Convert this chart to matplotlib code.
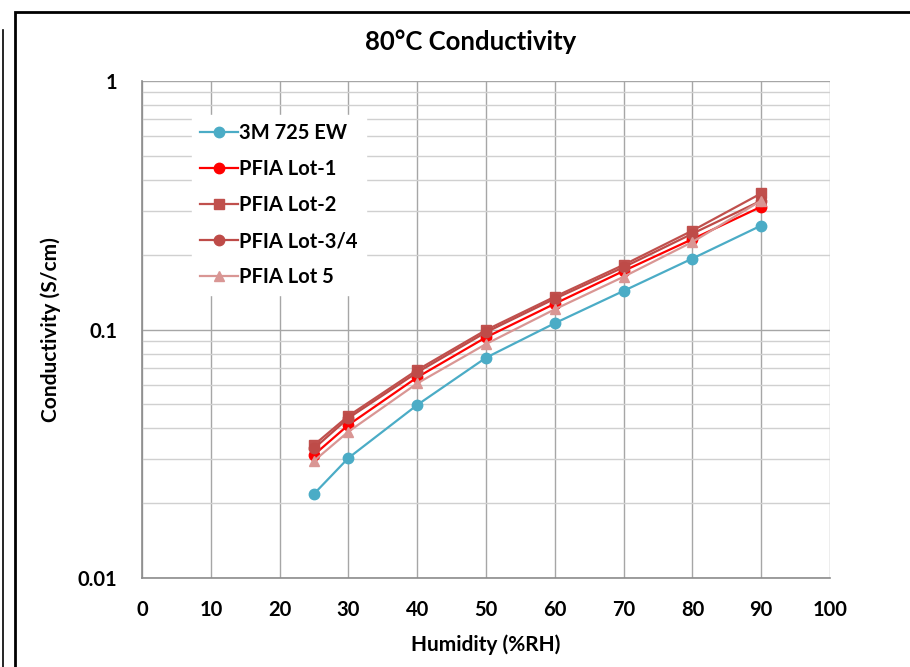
import numpy as np
import matplotlib.pyplot as plt
from matplotlib.ticker import FixedLocator, LogLocator, NullFormatter
from matplotlib.patches import Rectangle
from matplotlib.lines import Line2D

plt.rcParams['font.family'] = ['Lato', 'DejaVu Sans']

humidity = [25, 30, 40, 50, 60, 70, 80, 90]

cond_3m = [0.0218, 0.0304, 0.0497, 0.0770, 0.106, 0.143, 0.193, 0.262]
cond_lot1 = [0.0313, 0.0413, 0.0642, 0.0930, 0.127, 0.172, 0.231, 0.312]
cond_lot2 = [0.0343, 0.0449, 0.0687, 0.0995, 0.1355, 0.182, 0.250, 0.353]
cond_lot34 = [0.0332, 0.0440, 0.0672, 0.0975, 0.133, 0.178, 0.243, 0.330]
cond_lot5 = [0.0296, 0.0388, 0.0607, 0.0874, 0.1206, 0.163, 0.225, 0.330]

series = [
    ('3M 725 EW', cond_3m, '#4BACC6', 'o'),
    ('PFIA Lot-1', cond_lot1, '#FF0000', 'o'),
    ('PFIA Lot-2', cond_lot2, '#C0504D', 's'),
    ('PFIA Lot-3/4', cond_lot34, '#BE4B48', 'o'),
    ('PFIA Lot 5', cond_lot5, '#D99694', '^'),
]

fig = plt.figure(figsize=(9.1, 6.67), dpi=100)
ax = fig.add_axes([142 / 910, 1 - 578 / 667, (830 - 142) / 910, (578 - 81) / 667])

# outer chart frame (runs off the right and bottom edges)
fig.patches.append(Rectangle((15 / 910, -0.05), 0.99, 1.05 - 12 / 667,
                             transform=fig.transFigure, fill=False,
                             edgecolor='black', linewidth=2))
fig.lines.append(Line2D([3 / 910, 3 / 910], [0, 1 - 30 / 667],
                        transform=fig.transFigure, color='black', linewidth=1.2))

for name, vals, col, mk in series:
    ax.plot(humidity, vals, color=col, marker=mk, markersize=7.5, linewidth=1.6,
            label=name, zorder=3)

ax.set_yscale('log')
ax.set_ylim(0.01, 1)
ax.set_xlim(0, 100)
ax.xaxis.set_major_locator(FixedLocator(np.arange(0, 101, 10)))
ax.yaxis.set_major_locator(FixedLocator([0.01, 0.1, 1]))
ax.yaxis.set_minor_locator(LogLocator(base=10, subs=np.arange(2, 10)))
ax.yaxis.set_minor_formatter(NullFormatter())
ax.set_yticklabels(['0.01', '0.1', '1'])

ax.grid(True, which='major', color='#a6a6a6', linewidth=1.0, zorder=0)
ax.grid(True, which='minor', axis='y', color='#d0d0d0', linewidth=1.0, zorder=0)
for s in ['top', 'right']:
    ax.spines[s].set_visible(False)
for s in ['left', 'bottom']:
    ax.spines[s].set_color('#8c8c8c')
    ax.spines[s].set_linewidth(1.2)
ax.tick_params(axis='x', which='both', length=0, labelsize=14.5, pad=16)
ax.tick_params(axis='y', which='both', length=0, labelsize=14.5, pad=18)
for lab in ax.get_xticklabels() + ax.get_yticklabels():
    lab.set_fontweight('bold')

ax.set_xlabel('Humidity (%RH)', fontsize=15, fontweight='bold', labelpad=10)
ax.set_ylabel('Conductivity (S/cm)', fontsize=15, fontweight='bold', labelpad=12)
fig.text(471 / 910, 1 - 42 / 667, '80°C Conductivity', ha='center', va='center',
         fontsize=18.5, fontweight='bold')

leg = ax.legend(loc='upper left', bbox_to_anchor=(0.058, 0.952), frameon=True,
                fancybox=False, framealpha=1, edgecolor='white', fontsize=14.5,
                handlelength=1.9, handletextpad=0.05, labelspacing=0.8,
                borderpad=0.4)
leg.set_zorder(5)
for t in leg.get_texts():
    t.set_fontweight('bold')

fig.savefig('out.png', dpi=100)
